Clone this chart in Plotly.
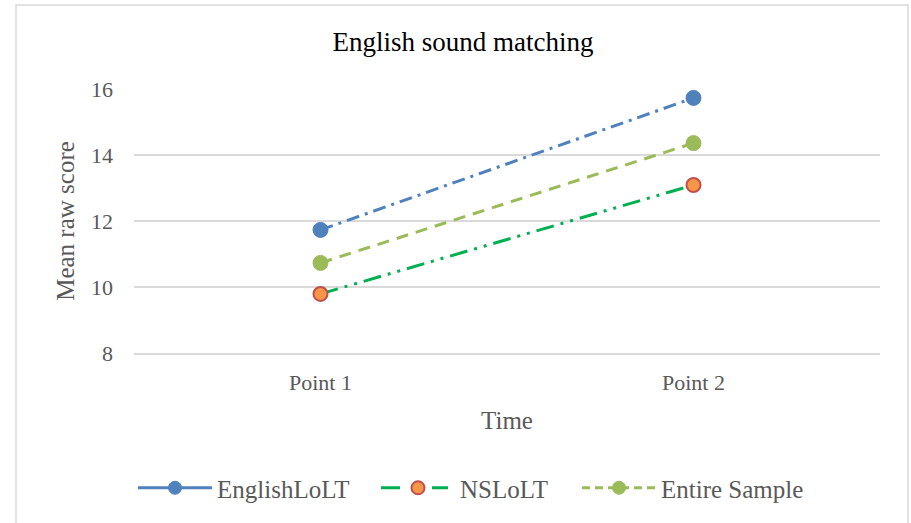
import plotly.graph_objects as go

# Data
time_points = ["Point 1", "Point 2"]
english_lolt = [11.73, 15.73]
ns_lolt = [9.79, 13.09]
entire_sample = [10.73, 14.36]
y_ticks = [8, 10, 12, 14, 16]

SERIF = "Liberation Serif, Times New Roman, serif"
GRID = "#D9D9D9"
TEXT = "#595959"
W, H = 911, 523

series = [
    dict(name="EnglishLoLT", y=english_lolt, color="#4F81BD",
         dash="13px,6px,3px,6px", legend_dash="solid",
         marker=dict(color="#4F81BD", size=15, line=dict(color="#4F81BD", width=1)),
         legend="legend", lx=143),
    dict(name="NSLoLT", y=ns_lolt, color="#00B050",
         dash="18px,7px,3px,7px,3px,7px", legend_dash="19px,32px,16px",
         marker=dict(color="#F79646", size=14, line=dict(color="#C0504D", width=2)),
         legend="legend2", lx=386),
    dict(name="Entire Sample", y=entire_sample, color="#9BBB59",
         dash="12px,8px", legend_dash="8px,5px",
         marker=dict(color="#9BBB59", size=15, line=dict(color="#9BBB59", width=1)),
         legend="legend3", lx=587),
]

fig = go.Figure()
legend_layout = {}
for s in series:
    # plotted series
    fig.add_trace(go.Scatter(
        x=time_points, y=s["y"], name=s["name"], mode="lines+markers",
        line=dict(color=s["color"], width=3, dash=s["dash"]),
        marker=s["marker"], showlegend=False,
    ))
    # legend key for the series
    fig.add_trace(go.Scatter(
        x=[None], y=[None], name=s["name"], mode="lines+markers",
        line=dict(color=s["color"], width=3, dash=s["legend_dash"]),
        marker=dict(s["marker"], size=13), legend=s["legend"], showlegend=True,
    ))
    legend_layout[s["legend"]] = dict(
        orientation="h", xref="container", x=(s["lx"] - 10) / W, xanchor="left",
        yref="container", y=1 - 488 / H, yanchor="middle",
        font=dict(family=SERIF, size=25, color=TEXT), itemwidth=74,
        bgcolor="rgba(0,0,0,0)", borderwidth=0,
    )

fig.update_layout(
    width=W, height=H,
    margin=dict(l=134, r=31, t=89, b=170),
    paper_bgcolor="white", plot_bgcolor="white",
    font=dict(family=SERIF, color=TEXT),
    title=dict(text="English sound matching", font=dict(family=SERIF, size=27, color="#000000"),
               xref="container", x=463 / W, xanchor="center",
               yref="container", y=1 - 42 / H, yanchor="middle"),
    xaxis=dict(range=[-0.5, 1.5], showgrid=False, showline=True, linecolor=GRID, linewidth=1.5,
               ticks="", tickfont=dict(size=22, color=TEXT), ticklabelstandoff=9,
               title=dict(text="Time", font=dict(size=25, color=TEXT), standoff=17),
               fixedrange=True),
    yaxis=dict(range=[8, 16], tickvals=y_ticks, showgrid=True, gridcolor=GRID, gridwidth=1.5,
               zeroline=False, showline=False, ticks="",
               tickfont=dict(size=22, color=TEXT), ticklabelstandoff=20,
               title=dict(text="Mean raw score", font=dict(size=25, color=TEXT), standoff=9),
               fixedrange=True),
    **legend_layout,
)

# Chart-area border
fig.add_shape(type="rect", xref="paper", yref="paper",
              x0=(16 - 134) / 746, x1=(908 - 134) / 746,
              y0=(353 - 540) / 264, y1=(353 - 5) / 264,
              line=dict(color=GRID, width=1.5), fillcolor="rgba(0,0,0,0)", layer="below")

fig.write_html("out.html")
